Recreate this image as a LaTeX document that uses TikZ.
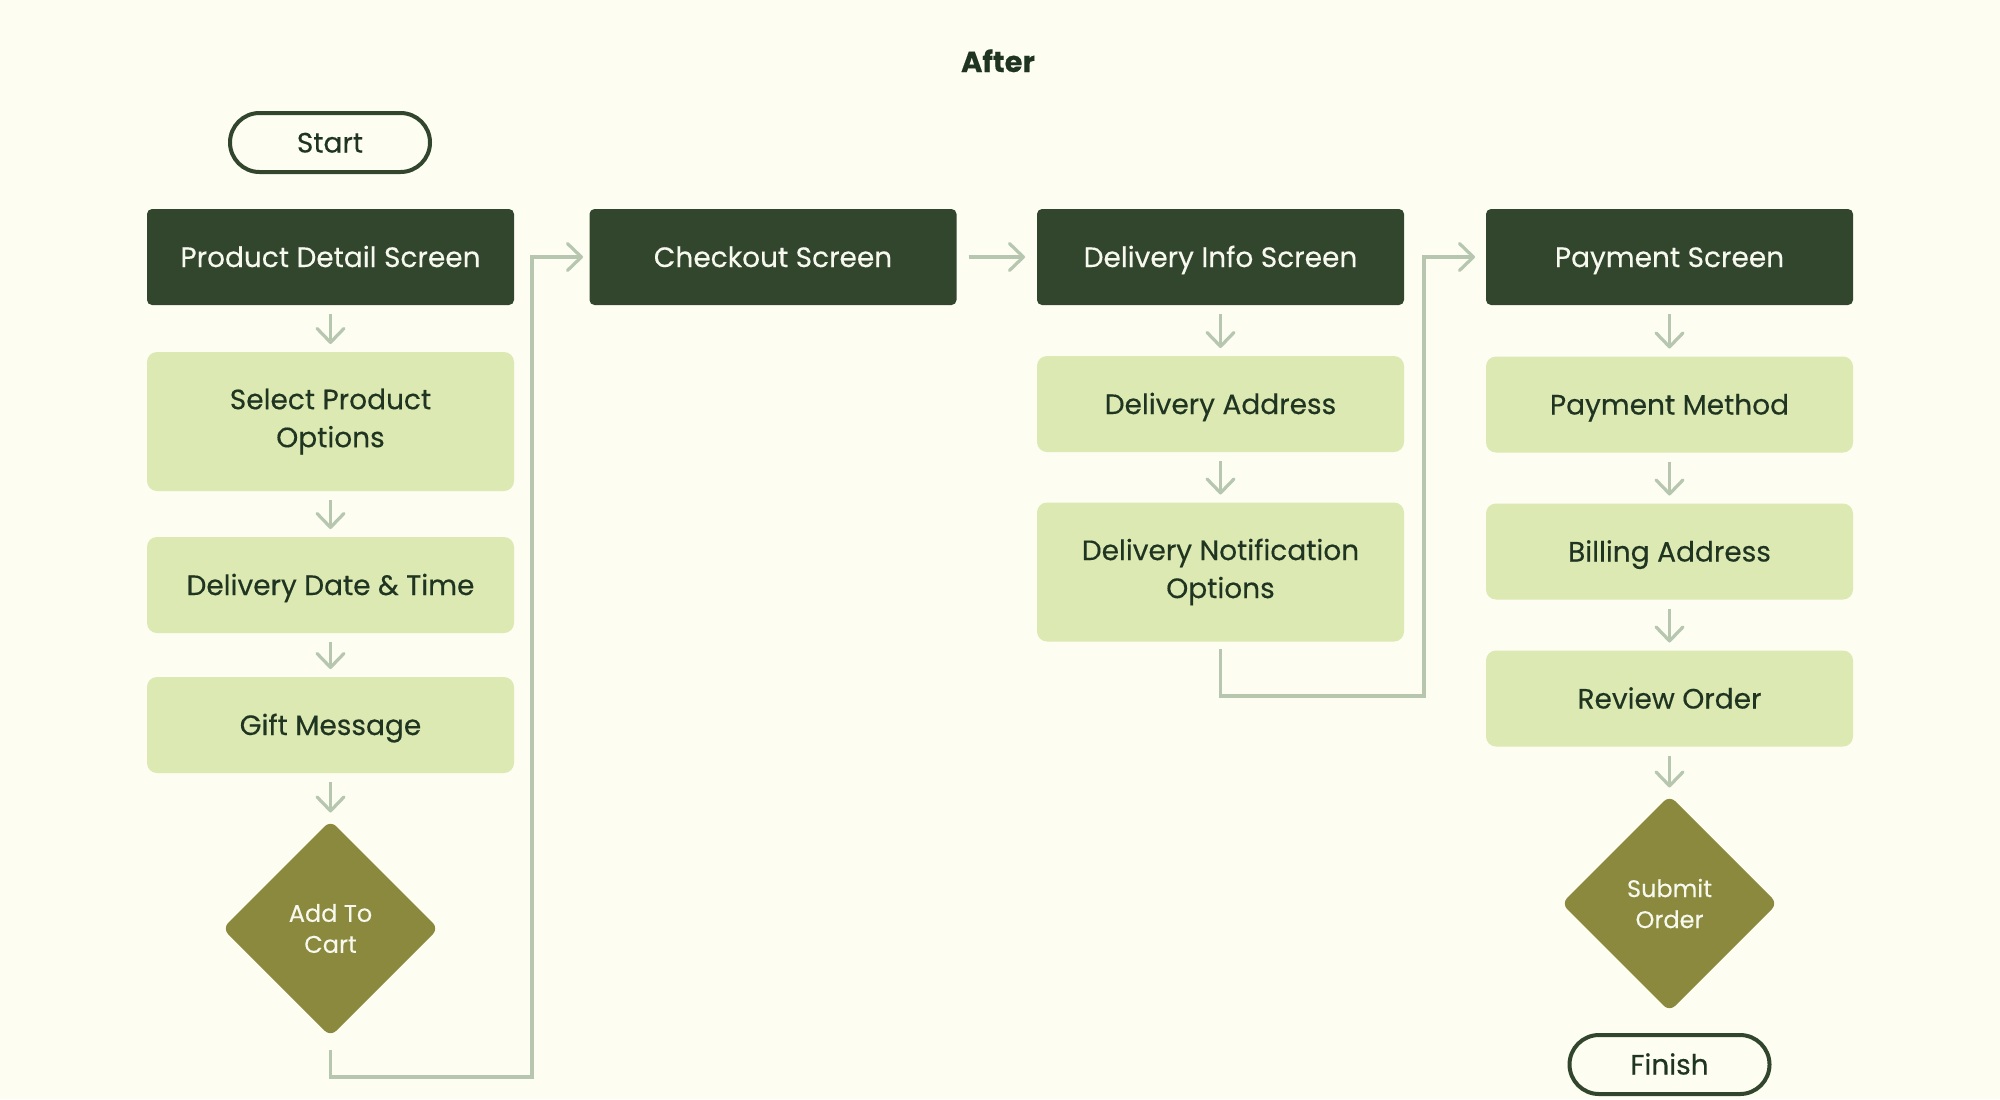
\documentclass[tikz,border=0pt]{standalone}
\usepackage{fontspec}
\setmainfont{Poppins}[FakeBold=0.3]
\usetikzlibrary{arrows.meta,shapes.geometric}
\definecolor{bg}{HTML}{FDFDF2}
\definecolor{darkbox}{HTML}{32462E}
\definecolor{lightbox}{HTML}{DCE9B2}
\definecolor{olive}{HTML}{8A893E}
\definecolor{conn}{HTML}{B7C6AF}
\definecolor{ink}{HTML}{1F3421}
\definecolor{paper}{HTML}{F7F9EF}
\begin{document}
\begin{tikzpicture}[x=0.5pt,y=-0.5pt,
  every node/.style={font=\fontsize{14}{19}\selectfont, inner sep=0pt, outer sep=0pt},
  screen/.style={rectangle, rounded corners=2.5pt, fill=darkbox, text=paper, minimum width=183.5pt, minimum height=48pt},
  substep/.style={rectangle, rounded corners=5pt, fill=lightbox, text=ink, minimum width=183.5pt, minimum height=48pt},
  tallstep/.style={substep, minimum height=69.5pt, align=center},
  decision/.style={diamond, aspect=1, fill=olive, text=paper, rounded corners=4pt, minimum width=108pt, minimum height=108pt, align=center, font=\fontsize{12}{15.5}\selectfont},
  terminal/.style={rectangle, rounded corners=14.75pt, draw=darkbox, line width=2pt, fill=bg, text=ink, minimum width=100pt, minimum height=29.5pt},
  oneline/.style={text height=10pt, text depth=0pt},
  link/.style={draw=conn, line width=1.6pt},
  flow/.style={link, -{Straight Barb[length=7pt,width=13.5pt,round]}},
  vflow/.style={flow, shorten <=4.5pt, shorten >=4pt},
]
\useasboundingbox (0,0) rectangle (2000,1099);
\fill[bg] (0,0) rectangle (2000,1099);

\node[font=\fontsize{14.5}{19}\selectfont\bfseries, text=ink, anchor=base] (title) at (998,72) {After};

% column 1
\node[terminal, oneline] (start) at (330,142.5) {Start};
\node[screen, oneline] (pds) at (330.5,257) {Product Detail Screen};
\node[tallstep] (spo) at (330.5,421.5) {Select Product\\Options};
\node[substep, oneline] (ddt) at (330.5,585) {Delivery Date \& Time};
\node[substep, oneline] (gm) at (330.5,725) {Gift Message};
\node[decision] (atc) at (330.5,928.5) {Add To\\Cart};

% column 2
\node[screen, oneline] (co) at (773,257) {Checkout Screen};

% column 3
\node[screen, oneline] (dis) at (1220.5,257) {Delivery Info Screen};
\node[substep, oneline] (da) at (1220.5,404) {Delivery Address};
\node[tallstep] (dno) at (1220.5,572) {Delivery Notification\\Options};

% column 4
\node[screen, oneline] (ps) at (1669.5,257) {Payment Screen};
\node[substep, oneline] (pm) at (1669.5,404.5) {Payment Method};
\node[substep, oneline] (ba) at (1669.5,551.5) {Billing Address};
\node[substep, oneline] (ro) at (1669.5,698.5) {Review Order};
\node[decision] (so) at (1669.5,903.5) {Submit\\Order};
\node[terminal, oneline] (fin) at (1669.5,1064.5) {Finish};

% vertical arrows
\draw[vflow] (pds) -- (spo);
\draw[vflow] (spo) -- (ddt);
\draw[vflow] (ddt) -- (gm);
\draw[vflow] (gm) -- (atc);
\draw[vflow] (dis) -- (da);
\draw[vflow] (da) -- (dno);
\draw[vflow] (ps) -- (pm);
\draw[vflow] (pm) -- (ba);
\draw[vflow] (ba) -- (ro);
\draw[vflow] (ro) -- (so);

% horizontal arrow
\draw[flow, shorten <=6pt, shorten >=6pt] (co) -- (dis);

% elbow connectors
\coordinate (j1) at (532,1077);
\draw[flow] ([yshift=-6.75pt]atc.south) |- (j1) |- ([xshift=-3.25pt]co.west);
\coordinate (j2) at (1424,696);
\draw[flow] ([yshift=-3.75pt]dno.south) |- (j2) |- ([xshift=-5.5pt]ps.west);
\end{tikzpicture}
\end{document}
